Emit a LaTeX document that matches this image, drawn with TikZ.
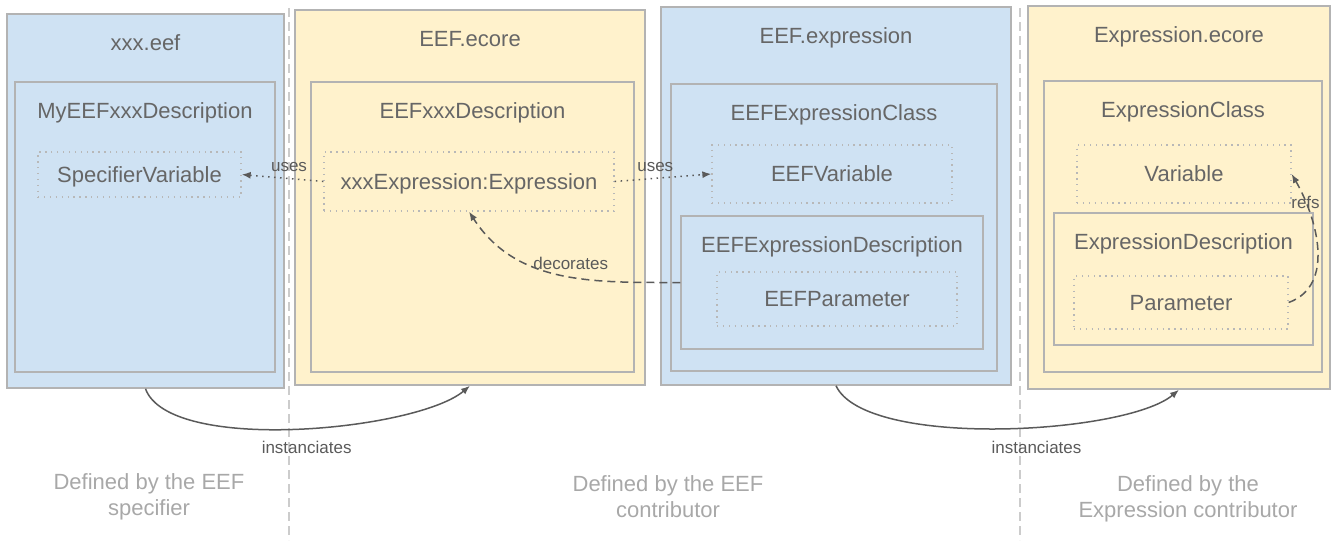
\documentclass[tikz,border=0pt]{standalone}
\usepackage{fontspec}
\setmainfont{Liberation Sans}
\usetikzlibrary{arrows.meta,positioning}
\definecolor{pkgblue}{HTML}{CFE2F3}
\definecolor{pkgyellow}{HTML}{FFF2CC}
\definecolor{boxline}{HTML}{B3B3B3}
\definecolor{dotline}{HTML}{B8B8B8}
\definecolor{txtgray}{HTML}{666666}
\definecolor{arrgray}{HTML}{5A5A5A}
\definecolor{notegray}{HTML}{A8A8A8}
\definecolor{sepgray}{HTML}{CCCCCC}
\newcommand\titlefont{\fontsize{22}{26}\selectfont}
\newcommand\labelfont{\fontsize{17}{20}\selectfont}
\tikzset{
  pkg/.style={draw=boxline, line width=1.5pt, inner sep=0pt},
  bluepkg/.style={pkg, fill=pkgblue},
  yellowpkg/.style={pkg, fill=pkgyellow},
  cls/.style={draw=boxline, line width=1.5pt, inner sep=0pt},
  attr/.style={draw=dotline, line width=1.3pt, dash pattern=on 1.3pt off 4.6pt,
    inner sep=0pt, text=txtgray, font=\titlefont, text height=15.8pt, text depth=0pt},
  title/.style={text=txtgray, font=\titlefont, inner sep=0pt, text height=15.8pt, text depth=0pt},
  lbl/.style={text=arrgray, font=\labelfont, inner sep=0pt},
  note/.style={text=notegray, font=\titlefont, align=center},
  sep/.style={draw=sepgray, line width=1.3pt, dash pattern=on 9pt off 5pt},
  usesarrow/.style={draw=arrgray, line width=1.5pt, dash pattern=on 1.5pt off 4.5pt,
    -{Latex[length=9pt,width=7pt]}},
  decoarrow/.style={draw=arrgray, line width=1.5pt, dash pattern=on 8pt off 5pt,
    -{Latex[length=9pt,width=7pt]}},
  instarrow/.style={draw=arrgray, line width=1.5pt, -{Latex[length=9pt,width=7pt]}},
}
\begin{document}
\begin{tikzpicture}[x=1pt, y=-1pt]
  \useasboundingbox (0,0) rectangle (1338,544);
  \draw[sep] (289,8) -- (289,540);
  \draw[sep] (1020,8) -- (1020,540);

  % xxx.eef
  \node[bluepkg, minimum width=277pt, minimum height=374pt] (eef) at (145.5,201) {};
  \node[title] at ([yshift=-29pt]eef.north) {xxx.eef};
  \node[cls, minimum width=260pt, minimum height=290pt] (mydesc) at (145,227) {};
  \node[title] at ([yshift=-29pt]mydesc.north) {MyEEFxxxDescription};
  \node[attr, minimum width=203pt, minimum height=45pt] (specvar) at (139.5,174.5) {SpecifierVariable};

  % EEF.ecore
  \node[yellowpkg, minimum width=350pt, minimum height=375pt] (ecore) at (470,197.5) {};
  \node[title] at ([yshift=-29pt]ecore.north) {EEF.ecore};
  \node[cls, minimum width=323pt, minimum height=290pt] (xxxdesc) at (472.5,227) {};
  \node[title] at ([yshift=-29pt]xxxdesc.north) {EEFxxxDescription};
  \node[attr, minimum width=290pt, minimum height=59pt] (xxxexpr) at (469,181.5) {xxxExpression:Expression};

  % EEF.expression
  \node[bluepkg, minimum width=350pt, minimum height=378pt] (eefexpr) at (836,196) {};
  \node[title] at ([yshift=-29pt]eefexpr.north) {EEF.expression};
  \node[cls, minimum width=326pt, minimum height=287pt] (eefclass) at (834,227.5) {};
  \node[title] at ([yshift=-29pt]eefclass.north) {EEFExpressionClass};
  \node[attr, minimum width=240pt, minimum height=58pt] (eefvar) at (832,174) {EEFVariable};
  \node[cls, minimum width=302pt, minimum height=133pt] (eefdesc) at (832,282.5) {};
  \node[title] at ([yshift=-29pt]eefdesc.north) {EEFExpressionDescription};
  \node[attr, minimum width=240pt, minimum height=54pt] (eefparam) at (837,299) {EEFParameter};

  % Expression.ecore
  \node[yellowpkg, minimum width=302pt, minimum height=383pt] (exprecore) at (1179,197.5) {};
  \node[title] at ([yshift=-29pt]exprecore.north) {Expression.ecore};
  \node[cls, minimum width=278pt, minimum height=291pt] (exprclass) at (1183,226.5) {};
  \node[title] at ([yshift=-29pt]exprclass.north) {ExpressionClass};
  \node[attr, minimum width=214pt, minimum height=58pt] (var) at (1184,174) {Variable};
  \node[cls, minimum width=259pt, minimum height=132pt] (exprdesc) at (1183.5,279) {};
  \node[title] at ([yshift=-29pt]exprdesc.north) {ExpressionDescription};
  \node[attr, minimum width=214pt, minimum height=53pt] (param) at (1181,302.5) {Parameter};

  % links
  \draw[usesarrow] (xxxexpr.west) -- node[lbl, pos=0.42, above=6pt] {uses} (specvar.east);
  \draw[usesarrow] (xxxexpr.east) -- node[lbl, pos=0.42, above=6pt] {uses} (eefvar.west);
  \draw[decoarrow] (eefdesc.west) to[out=180, in=-57]
    node[lbl, pos=0.45, above=6pt] {decorates} (xxxexpr.south);
  \draw[decoarrow] (param.east) to[out=20, in=-60] node[lbl, pos=0.8] {refs} (var.east);
  \draw[instarrow] (eef.south) to[out=-70, in=-140, looseness=0.55]
    node[lbl, pos=0.5, below=12pt, xshift=10pt] {instanciates} (ecore.south);
  \draw[instarrow] (eefexpr.south) to[out=-65, in=-140, looseness=0.52]
    node[lbl, pos=0.5, below=12pt, xshift=38pt] {instanciates} (exprecore.south);

  % owners
  \node[note] (specifier) at (149,496.5) {Defined by the EEF\\specifier};
  \node[note] (contributor) at (668,496.5) {Defined by the EEF\\contributor};
  \node[note] (exprcontrib) at (1188,499) {Defined by the\\Expression contributor};
\end{tikzpicture}
\end{document}
